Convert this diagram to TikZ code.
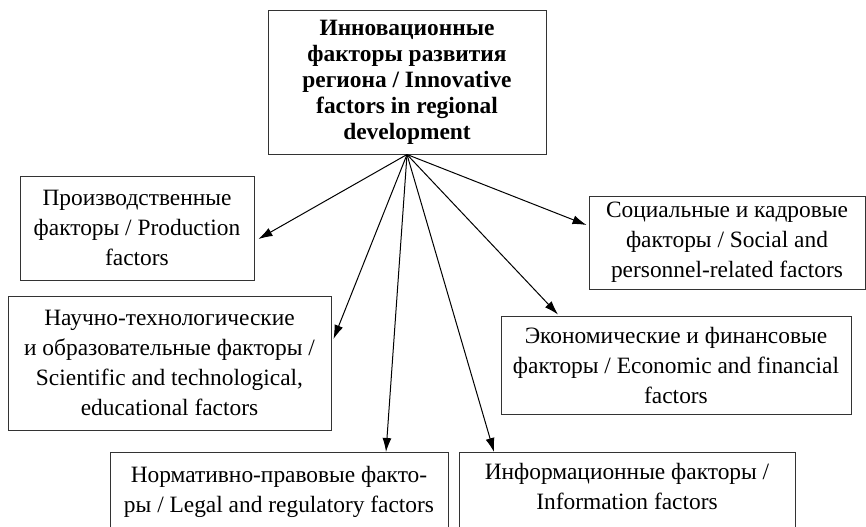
\documentclass[tikz,border=0pt]{standalone}
\usepackage{fontspec}
\setmainfont{Liberation Serif}
\usetikzlibrary{arrows.meta,calc}
\tikzset{>={Latex[length=7pt,width=4.5pt]}}
\tikzset{factor/.style={draw=black!80,line width=0.5pt,align=center,inner sep=0pt,font=\fontsize{11.7pt}{15pt}\selectfont}}

\begin{document}
\begin{tikzpicture}[x=0.5pt,y=-0.5pt,line width=0.5pt]
  \fill[white] (0,0) rectangle (866,526);
  \useasboundingbox (0,0) rectangle (866,526);
  % Boxes
  \node[factor,minimum width=139pt,minimum height=72pt,font=\bfseries\fontsize{11.7pt}{13pt}\selectfont] (main) at (407,82)
    {Инновационные\\факторы развития\\региона / Innovative\\factors in regional\\development};
  \node[factor,minimum width=117pt,minimum height=52pt] (prod) at (137,228)
    {Производственные\\факторы / Production\\factors};
  \node[factor,minimum width=161.5pt,minimum height=67pt] (sci) at (169.5,363)
    {Научно-технологические\\и образовательные факторы /\\Scientific and technological,\\educational factors};
  % bottom row runs past the lower edge
  \node[factor,anchor=north,minimum width=169pt,text height=30pt,text depth=30pt] (legal) at (279,452)
    {Нормативно-правовые факто-\\ры / Legal and regulatory factors};
  \node[factor,anchor=north,minimum width=168pt,text height=28.5pt,text depth=30pt] (info) at (627,452)
    {Информационные факторы /\\Information factors};
  \node[factor,minimum width=138pt,minimum height=46.5pt] (social) at (727,242.5)
    {Социальные и кадровые\\факторы / Social and\\personnel-related factors};
  \node[factor,minimum width=175pt,minimum height=49pt] (econ) at (676,365)
    {Экономические и финансовые\\факторы / Economic and financial\\factors};
  % Arrows
  \draw[->] (main.south) -- ($(prod.east)+(4,11)$);
  \draw[->] (main.south) -- ($(sci.east)+(2,-24)$);
  \draw[->] (main.south) -- ($(legal.north)+(107,0)$);
  \draw[->] (main.south) -- ($(info.north)+(-133,0)$);
  \draw[->] (main.south) -- ($(econ.north)+(-118,-1)$);
  \draw[->] (main.south) -- ($(social.west)+(-2,-17.5)$);
\end{tikzpicture}
\end{document}
